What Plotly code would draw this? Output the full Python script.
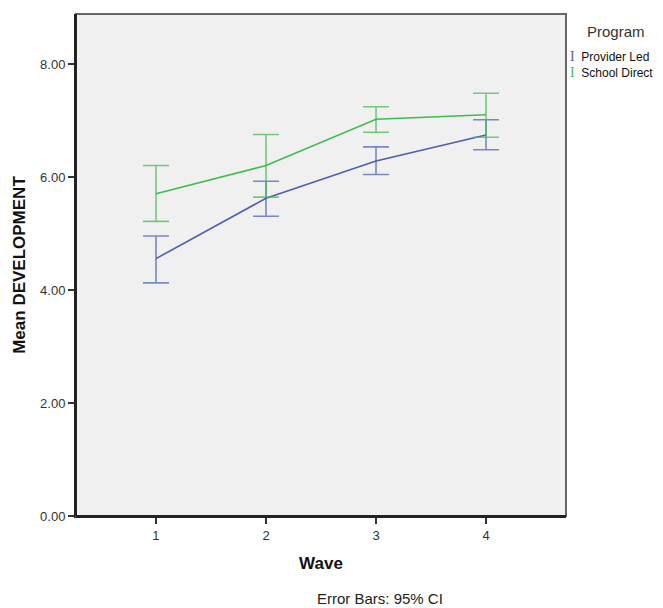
import plotly.graph_objects as go

waves = [1, 2, 3, 4]
provider_mean = [4.56, 5.63, 6.29, 6.75]
provider_upper = [4.96, 5.93, 6.54, 7.02]
provider_lower = [4.13, 5.31, 6.05, 6.49]
school_mean = [5.71, 6.21, 7.03, 7.11]
school_upper = [6.21, 6.76, 7.25, 7.49]
school_lower = [5.22, 5.65, 6.80, 6.71]
y_ticks = [0, 2, 4, 6, 8]
y_ticklabels = ["0.00", "2.00", "4.00", "6.00", "8.00"]
series_names = ["Provider Led", "School Direct"]

BLUE = "#4b5fb4"
GREEN = "#3dbd4e"
BLUE_EB = "rgba(75,95,180,0.72)"
GREEN_EB = "rgba(61,189,78,0.72)"
FONT = "Liberation Sans, Arial, sans-serif"

def series(mean, upper, lower, name, color, ebcolor):
    return go.Scatter(
        x=waves, y=mean, mode="lines", name=name, showlegend=False,
        line=dict(color=color, width=1.6),
        error_y=dict(type="data", symmetric=False,
                     array=[u - m for u, m in zip(upper, mean)],
                     arrayminus=[m - l for m, l in zip(mean, lower)],
                     color=ebcolor, thickness=1.6, width=13),
    )

fig = go.Figure()
fig.add_trace(series(provider_mean, provider_upper, provider_lower, series_names[0], BLUE, BLUE_EB))
fig.add_trace(series(school_mean, school_upper, school_lower, series_names[1], GREEN, GREEN_EB))

# page body has an 8px margin, so the figure is sized to fit the window
fig.update_layout(
    width=655, height=600,
    margin=dict(l=68, r=97, t=6, b=92),
    paper_bgcolor="white", plot_bgcolor="#f0f0f0",
    font=dict(family=FONT, color="#333"),
    showlegend=False,
    xaxis=dict(range=[0.273, 4.727], tickvals=waves, ticktext=[str(w) for w in waves],
               ticks="outside", ticklen=6, tickcolor="#333", tickwidth=1.5,
               showline=True, linecolor="#222", linewidth=2, showgrid=False, zeroline=False,
               tickfont=dict(size=13, color="#333"),
               title=dict(text="<b>Wave</b>", font=dict(size=17, color="#111"), standoff=16)),
    yaxis=dict(range=[0, 8.894], tickvals=y_ticks, ticktext=y_ticklabels,
               ticks="outside", ticklen=6, tickcolor="#333", tickwidth=1.5,
               showline=True, linecolor="#222", linewidth=2, showgrid=False, zeroline=False,
               tickfont=dict(size=13, color="#333"),
               title=dict(text="<b>Mean DEVELOPMENT</b>", font=dict(size=17, color="#111"), standoff=10)),
)

# plot frame (top/right in gray)
fig.add_shape(type="rect", xref="paper", yref="paper", x0=0, x1=1, y0=0, y1=1,
              line=dict(color="#666", width=2), layer="above")
fig.add_shape(type="line", xref="paper", yref="paper", x0=0, x1=0, y0=0, y1=1,
              line=dict(color="#222", width=2), layer="above")
fig.add_shape(type="line", xref="paper", yref="paper", x0=0, x1=1, y0=0, y1=0,
              line=dict(color="#222", width=2), layer="above")

# legend drawn as text
fig.add_annotation(text="Program", xref="paper", yref="paper", x=1.038, y=0.965,
                   xanchor="left", yanchor="middle", showarrow=False,
                   font=dict(size=15, color="#333"))
for i, (name, col) in enumerate(zip(series_names, [BLUE, GREEN])):
    fig.add_annotation(
        text=f"<span style='font-family:Liberation Serif, serif;font-size:14px;color:{col}'>I</span>  {name}",
        xref="paper", yref="paper", x=1.004, y=0.915 - i * 0.032,
        xanchor="left", yanchor="middle", showarrow=False,
        font=dict(size=12, color="#111"))

fig.add_annotation(text="Error Bars: 95% CI", xref="paper", yref="paper",
                   x=0.62, y=-0.165, xanchor="center", yanchor="middle", showarrow=False,
                   font=dict(size=15, color="#222"))

fig.write_html("out.html")
